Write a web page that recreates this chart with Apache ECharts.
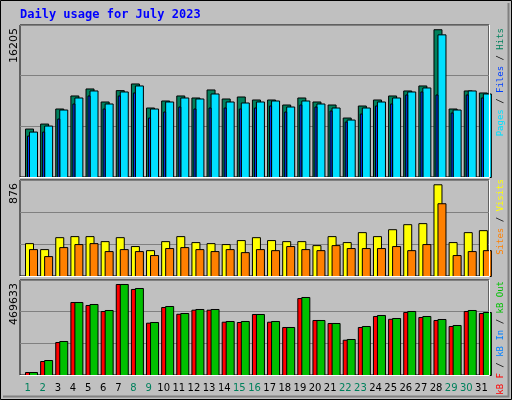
<!DOCTYPE html>
<html><head><meta charset="utf-8">
<script src="https://cdn.jsdelivr.net/npm/echarts@6/dist/echarts.min.js"></script>
<style>html,body{margin:0;padding:0;background:#c0c0c0}#main{width:512px;height:400px}</style>
</head><body><div id="main"></div>
<script>
// 日期
var days = [];
for (var d = 1; d <= 31; d++) days.push(String(d));
var weekendDays = ['1','2','8','9','15','16','22','23','29','30'];

// Hits / Files / Pages
var hits  = [5313,5862,7511,8940,9710,8281,9526,10259,7621,8391,8940,8720,9600,8610,8830,8500,8500,7951,8720,8281,7951,6522,7841,8500,8940,9490,10039,16205,7511,9490,9270];
var pages = [4983,5643,7401,8720,9490,8061,9380,10039,7511,8281,8720,8610,9160,8281,8171,8281,8391,7731,8391,8061,7621,6302,7621,8281,8720,9380,9820,15645,7401,9490,9160];
var files = [4543,4983,6412,8061,8940,7511,8940,9270,6522,7181,7731,7511,7621,7621,7511,7621,7841,7181,7951,7731,7291,6082,6962,7841,8061,9050,9380,9050,7071,9050,8720];

// Visits / Sites
var visits = [314,257,371,381,381,333,371,286,247,333,381,324,314,305,343,371,343,333,333,295,381,324,419,381,447,495,505,876,324,419,438];
var sites  = [257,190,276,305,314,238,257,238,200,267,276,257,238,257,228,257,247,286,257,247,295,267,267,267,286,247,305,695,200,238,247];

// kB F / kB Out
var kbOut = [15480,77410,175470,376750,366430,335460,469633,449000,273530,356100,319980,340620,340620,278690,278690,314820,278690,247720,402550,283850,268370,185790,252890,309660,294170,330300,304490,289010,258050,335460,325140];
var kbF   = [15480,72250,170300,376750,361270,330300,469633,444000,270000,351000,316000,337000,337000,275000,273500,314820,275000,247720,397000,283850,268370,182000,247720,304490,290000,325140,299330,283850,252890,330300,320000];

var max1 = 16670, max2 = 917, max3 = 490276;

/** 生成自定义柱子 (x0/x1 为相对于类目带起点的偏移) */
function barSeries(data, gridIdx, x0, x1, color, z) {
    return {
        type: 'custom', xAxisIndex: gridIdx, yAxisIndex: gridIdx, z: z,
        data: data.map(function (v, i) { return [i, v]; }),
        renderItem: function (params, api) {
            var p = api.coord([api.value(0), api.value(1)]);
            var base = api.coord([api.value(0), 0]);
            var band = api.size([1, 0])[0];
            var start = p[0] - band / 2;
            return {
                type: 'rect',
                shape: { x: start + x0 + 0.5, y: p[1] + 0.5, width: x1 - x0, height: base[1] - p[1] },
                style: { fill: color, stroke: '#000', lineWidth: 1 }
            };
        }
    };
}

var grids = [
    { left: 20, right: 23, top: 25, height: 152 },
    { left: 20, right: 23, top: 180, height: 96 },
    { left: 20, right: 23, top: 280, height: 95 }
].map(function (g) { g.show = true; g.borderColor = '#000'; g.borderWidth = 1; g.backgroundColor = 'transparent'; return g; });

var xAxes = [0, 1, 2].map(function (i) {
    return {
        type: 'category', gridIndex: i, data: days, boundaryGap: true,
        axisLine: { show: false }, axisTick: { show: false },
        axisLabel: i < 2 ? { show: false } : {
            interval: 0, margin: 8, fontFamily: 'DejaVu Sans', fontSize: 10,
            formatter: function (v) { return weekendDays.indexOf(v) >= 0 ? '{w|' + v + '}' : '{n|' + v + '}'; },
            rich: { w: { color: '#00805c', fontSize: 10 }, n: { color: '#000', fontSize: 10 } }
        }
    };
});

var yAxes = [max1, max2, max3].map(function (m, i) {
    return {
        type: 'value', gridIndex: i, min: 0, max: m, interval: m / 3,
        axisLabel: { show: false }, axisLine: { show: false }, axisTick: { show: false },
        splitLine: { show: true, lineStyle: { color: '#808080', width: 1 } }
    };
});

function vtext(x, y, text) {
    return {
        type: 'text', x: x, y: y, rotation: Math.PI / 2,
        style: { text: text, rich: rich, align: 'right', verticalAlign: 'middle',
                 fontFamily: 'DejaVu Sans Mono', fontSize: 9, fill: '#000' }
    };
}

var mono = 'DejaVu Sans Mono';
function rs(c, f) { return { fill: c, fontFamily: f || mono, fontSize: 9 }; }
var rich = {
    c: rs('#00e0ff'), b: rs('#0040ff'), g: rs('#00805c'), o: rs('#ff8000'),
    y: rs('#ffff00'), r: rs('#ff0000'), l: rs('#0080ff'), e: rs('#00c000'),
    k: rs('#000'),
    n: { fill: '#000', fontFamily: 'DejaVu Sans', fontSize: 11 }
};

var myChart = echarts.init(document.getElementById('main'));
myChart.setOption({
    backgroundColor: '#c0c0c0',
    animation: false,
    grid: grids,
    xAxis: xAxes,
    yAxis: yAxes,
    graphic: [
        { type: 'rect', shape: { x: 0.5, y: 0.5, width: 511, height: 399 }, style: { fill: 'none', stroke: '#000', lineWidth: 1 }, z: 100 },
        { type: 'polyline', shape: { points: [[3, 396.5], [508.5, 396.5], [508.5, 3]] }, style: { stroke: '#808080', lineWidth: 2, fill: 'none' }, z: 99 },
        { type: 'polyline', shape: { points: [[20, 177.5], [489.5, 177.5], [489.5, 25]] }, style: { stroke: '#fff', lineWidth: 1, fill: 'none' }, z: 99 },
        { type: 'polyline', shape: { points: [[20, 276.5], [489.5, 276.5], [489.5, 180]] }, style: { stroke: '#fff', lineWidth: 1, fill: 'none' }, z: 99 },
        { type: 'polyline', shape: { points: [[20, 375.5], [489.5, 375.5], [489.5, 280]] }, style: { stroke: '#fff', lineWidth: 1, fill: 'none' }, z: 99 },
        { type: 'text', x: 20, y: 15, style: { text: 'Daily usage for July 2023', fill: '#0000ff', fontFamily: mono, fontSize: 12, fontWeight: 'bold', verticalAlign: 'middle' } },
        vtext(14, 28, '{n|16205}'),
        vtext(14, 183, '{n|876}'),
        vtext(14, 283, '{n|469633}'),
        vtext(501, 28, '{c|Pages}{k| / }{b|Files}{k| / }{g|Hits}'),
        vtext(501, 179, '{o|Sites}{k| / }{y|Visits}'),
        vtext(501, 281, '{r|kB F}{k| / }{l|kB In}{k| / }{e|kB Out}')
    ],
    series: [
        barSeries(hits, 0, 5, 13, '#00805c', 2),
        barSeries(pages, 0, 9, 17, '#00e0ff', 3),
        barSeries(files, 0, 7, 9, '#0040ff', 4),
        barSeries(visits, 1, 5, 13, '#ffff00', 2),
        barSeries(sites, 1, 9, 17, '#ff8000', 3),
        barSeries(kbF, 2, 5, 13, '#ff0000', 2),
        barSeries(kbOut, 2, 9, 17, '#00c000', 3)
    ]
});
</script>
</body></html>
